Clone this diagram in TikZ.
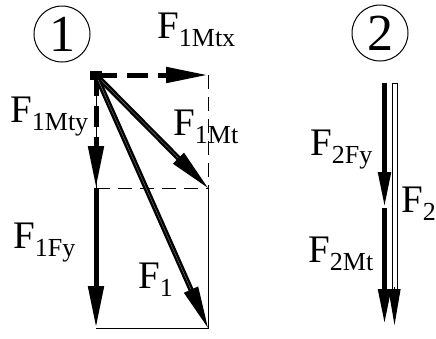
\documentclass[tikz,border=0pt]{standalone}
\usepackage{fontspec}
\setmainfont{Liberation Serif}
\usetikzlibrary{arrows.meta}
\newcommand{\flab}[1]{{\fontsize{39pt}{39pt}\selectfont F\raisebox{-8pt}{\fontsize{26pt}{26pt}\selectfont #1}}}
\begin{document}
\begin{tikzpicture}[x=1pt,y=-1pt,
  bigtip/.style={-{Triangle[length=42pt,width=15pt]}},
  smalltip/.style={-{Triangle[length=36pt,width=12pt]}},
  force/.style={line width=5pt},
  dforce/.style={line width=2.4pt,double=gray,double distance=0.4pt},
  thin line/.style={line width=0.9pt},
  thin dash/.style={line width=0.9pt,dash pattern=on 14pt off 8pt},
  thick dash/.style={line width=5pt,dash pattern=on 21pt off 10pt},
  lab/.style={anchor=base west,inner sep=0pt},
  num/.style={circle,draw,line width=1pt,minimum size=56pt,inner sep=0pt,font=\fontsize{52pt}{52pt}\selectfont}]
\useasboundingbox (0,0) rectangle (436,338);
% diagram 1 points
\coordinate (O) at (96,75);
\coordinate (A) at (208,75);
\coordinate (B) at (208,188);
\coordinate (C) at (96,188);
\coordinate (D) at (96,328);
\coordinate (E) at (208,328);
% circles
\node[num] (n1) at (62,34) {1};
\node[num] (n2) at (380,33) {2};
% rectangle construction lines
\draw[thin dash] (A) -- (B);
\draw[thin dash] (C) -- (B);
\draw[thin line] (B) -- (E) -- (D);
\draw[thin line] (O) -- (C);
% components
\draw[thick dash,bigtip] (O) -- (A);
\draw[thick dash,bigtip] (O) -- (C);
\draw[force,bigtip] (C) -- (D);
\draw[dforce,bigtip] (O) -- (B);
\draw[dforce,bigtip] (O) -- (E);
\fill (90,71) rectangle (102,80);
% diagram 2
\coordinate (P) at (384.5,83);
\coordinate (Q) at (384.5,208);
\coordinate (R) at (384.5,325);
\coordinate (S) at (394.5,83);
\coordinate (T) at (394.5,325);
\coordinate (U) at (394.5,287);
\draw[force,smalltip] (P) -- (Q);
\draw[force,smalltip] (Q) -- (R);
\draw[line width=0.8pt,fill=white] (392,83) rectangle (397,291);
\draw[line width=1pt,smalltip] (U) -- (T);
% labels
\node[lab] (l1) at (157,38) {\flab{1Mtx}};
\node[lab] (l2) at (10,122) {\flab{1Mty}};
\node[lab] (l3) at (173,135) {\flab{1Mt}};
\node[lab] (l4) at (13,248) {\flab{1Fy}};
\node[lab] (l5) at (138,288) {\flab{1}};
\node[lab] (l6) at (310,155) {\flab{2Fy}};
\node[lab] (l7) at (401,212) {\flab{2}};
\node[lab] (l8) at (308,262) {\flab{2Mt}};
\end{tikzpicture}
\end{document}
